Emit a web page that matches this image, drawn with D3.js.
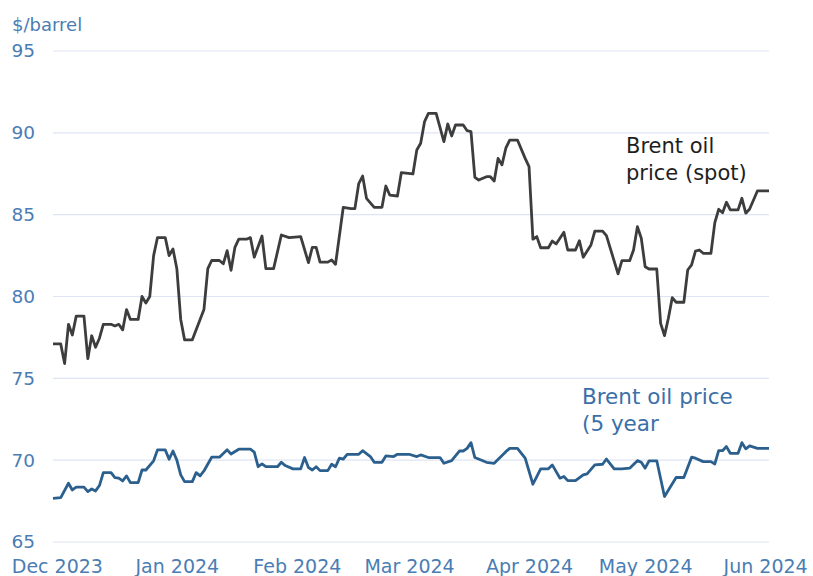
<!DOCTYPE html>
<html>
<head>
<meta charset="utf-8">
<script src="https://cdn.jsdelivr.net/npm/d3@7"></script>
<style>
  body { margin: 0; background: #fff; }
  svg text { font-family: "DejaVu Sans", sans-serif; }
</style>
</head>
<body>
<svg id="chart"></svg>
<script>
// Brent spot vs 5-year forward
var spotDates = ["2023-11-30","2023-12-02","2023-12-03","2023-12-04","2023-12-05","2023-12-06","2023-12-08","2023-12-09","2023-12-10","2023-12-11","2023-12-12","2023-12-13","2023-12-15","2023-12-16","2023-12-17","2023-12-18","2023-12-19","2023-12-20","2023-12-22","2023-12-23","2023-12-24","2023-12-25","2023-12-26","2023-12-27","2023-12-29","2023-12-30","2023-12-31",
  "2024-01-01","2024-01-02","2024-01-03","2024-01-05","2024-01-08","2024-01-09","2024-01-10","2024-01-12","2024-01-13","2024-01-14","2024-01-15","2024-01-16","2024-01-17","2024-01-19","2024-01-20","2024-01-21","2024-01-23","2024-01-24","2024-01-26","2024-01-28","2024-01-30",
  "2024-02-02","2024-02-04","2024-02-05","2024-02-06","2024-02-07","2024-02-09","2024-02-10","2024-02-11","2024-02-13","2024-02-15","2024-02-16","2024-02-17","2024-02-18","2024-02-19","2024-02-21","2024-02-23","2024-02-24","2024-02-25","2024-02-27","2024-02-28",
  "2024-03-02","2024-03-03","2024-03-04","2024-03-05","2024-03-06","2024-03-08","2024-03-10","2024-03-11","2024-03-12","2024-03-13","2024-03-15","2024-03-16","2024-03-17","2024-03-18","2024-03-19","2024-03-21","2024-03-22","2024-03-23","2024-03-24","2024-03-25","2024-03-26","2024-03-27","2024-03-29","2024-03-31",
  "2024-04-01","2024-04-02","2024-04-03","2024-04-04","2024-04-06","2024-04-07","2024-04-08","2024-04-10","2024-04-11","2024-04-13","2024-04-14","2024-04-15","2024-04-17","2024-04-18","2024-04-20","2024-04-21","2024-04-24","2024-04-25","2024-04-27","2024-04-28","2024-04-29","2024-04-30",
  "2024-05-01","2024-05-02","2024-05-04","2024-05-05","2024-05-06","2024-05-07","2024-05-08","2024-05-09","2024-05-11","2024-05-12","2024-05-13","2024-05-14","2024-05-15","2024-05-16","2024-05-18","2024-05-19","2024-05-20","2024-05-21","2024-05-22","2024-05-23","2024-05-25","2024-05-26","2024-05-27","2024-05-28","2024-05-30","2024-06-02"];
var spotValues = [77.1,77.1,75.9,78.3,77.65,78.8,78.8,76.2,77.6,76.9,77.45,78.3,78.3,78.2,78.3,77.96,79.2,78.6,78.6,80.0,79.6,80.0,82.5,83.6,83.6,82.5,82.9,
  81.7,78.6,77.35,77.35,79.2,81.7,82.2,82.2,82.0,82.8,81.6,83.0,83.5,83.5,83.6,82.4,83.7,81.7,81.7,83.76,83.6,
  83.66,82.07,83.0,83.0,82.1,82.1,82.23,81.97,85.45,85.37,85.37,86.9,87.36,86.0,85.45,85.45,86.75,86.2,86.14,87.57,
  87.49,88.95,89.36,90.68,91.19,91.19,89.46,90.54,89.81,90.48,90.48,90.13,90.07,87.28,87.12,87.32,87.32,87.06,88.44,88.04,89.06,89.56,89.56,88.44,
  87.93,83.5,83.66,82.98,82.98,83.39,83.21,83.92,82.84,82.84,83.41,82.4,83.15,84.0,84.0,83.72,81.38,82.19,82.19,82.84,84.27,83.56,
  81.82,81.68,81.68,78.36,77.61,78.67,79.93,79.65,79.65,81.62,81.93,82.78,82.84,82.64,82.64,84.51,85.33,85.12,85.76,85.29,85.29,86.0,85.09,85.35,86.45,86.45];

var fwdDates = ["2023-11-30","2023-12-02","2023-12-04","2023-12-05","2023-12-06","2023-12-08","2023-12-09","2023-12-10","2023-12-11","2023-12-12","2023-12-13","2023-12-15","2023-12-16","2023-12-17","2023-12-18","2023-12-19","2023-12-20","2023-12-22","2023-12-23","2023-12-24","2023-12-26","2023-12-27","2023-12-29","2023-12-30","2023-12-31",
  "2024-01-01","2024-01-02","2024-01-03","2024-01-05","2024-01-06","2024-01-07","2024-01-08","2024-01-10","2024-01-12","2024-01-14","2024-01-15","2024-01-17","2024-01-20","2024-01-21","2024-01-22","2024-01-23","2024-01-24","2024-01-27","2024-01-28","2024-01-29","2024-01-31",
  "2024-02-02","2024-02-03","2024-02-04","2024-02-05","2024-02-06","2024-02-07","2024-02-09","2024-02-10","2024-02-11","2024-02-12","2024-02-13","2024-02-14","2024-02-17","2024-02-18","2024-02-20","2024-02-21","2024-02-23","2024-02-24","2024-02-26","2024-02-27",
  "2024-03-01","2024-03-03","2024-03-04","2024-03-06","2024-03-09","2024-03-10","2024-03-12","2024-03-14","2024-03-15","2024-03-16","2024-03-17","2024-03-18","2024-03-21","2024-03-23","2024-03-26","2024-03-27","2024-03-29","2024-03-31",
  "2024-04-02","2024-04-03","2024-04-04","2024-04-06","2024-04-07","2024-04-09","2024-04-10","2024-04-11","2024-04-13","2024-04-15","2024-04-16","2024-04-18","2024-04-20","2024-04-21","2024-04-23","2024-04-25","2024-04-27","2024-04-29","2024-04-30",
  "2024-05-01","2024-05-02","2024-05-04","2024-05-06","2024-05-09","2024-05-11","2024-05-13","2024-05-14","2024-05-16","2024-05-18","2024-05-19","2024-05-20","2024-05-21","2024-05-22","2024-05-23","2024-05-25","2024-05-26","2024-05-27","2024-05-28","2024-05-30","2024-06-02"];
var fwdValues = [67.67,67.71,68.59,68.18,68.35,68.35,68.08,68.24,68.12,68.45,69.24,69.24,68.94,68.9,68.73,69.04,68.63,68.63,69.4,69.4,69.96,70.63,70.63,70.06,70.56,
  70.0,69.1,68.69,68.69,69.24,69.04,69.34,70.18,70.18,70.63,70.38,70.67,70.67,70.49,69.6,69.77,69.6,69.6,69.87,69.67,69.47,
  69.47,70.16,69.55,69.4,69.6,69.36,69.36,69.75,69.6,70.12,70.06,70.36,70.36,70.58,70.22,69.87,69.87,70.26,70.22,70.36,
  70.36,70.22,70.32,70.16,70.16,69.81,69.97,70.56,70.56,70.72,71.07,70.16,69.87,69.81,70.52,70.72,70.72,70.12,
  68.53,69.0,69.47,69.47,69.71,68.9,69.0,68.75,68.75,69.1,69.16,69.71,69.75,70.07,69.47,69.47,69.51,69.97,69.87,
  69.51,69.96,69.96,67.78,68.94,68.94,70.18,70.12,69.91,69.91,69.77,70.58,70.58,70.83,70.42,70.42,71.07,70.69,70.87,70.72,70.72];

var yTicks = [65, 70, 75, 80, 85, 90, 95];
var monthTicks = ["2023-12-01","2024-01-01","2024-02-01","2024-03-01","2024-04-01","2024-05-01","2024-06-01"];

var width = 813, height = 576;
var margin = {top: 51, right: 44, bottom: 34, left: 53};
var parse = d3.timeParse("%Y-%m-%d");

var spot = spotDates.map(function(d, i) { return {date: parse(d), value: spotValues[i]}; });
var fwd = fwdDates.map(function(d, i) { return {date: parse(d), value: fwdValues[i]}; });

var svg = d3.select("#chart")
    .attr("width", width)
    .attr("height", height);

var x = d3.scaleTime()
    .domain([parse("2023-11-30"), parse("2024-06-02")])
    .range([margin.left, width - margin.right]);

var y = d3.scaleLinear()
    .domain([65, 95])
    .range([height - margin.bottom, margin.top]);

var axisColor = "#4a7db3";

// gridlines
svg.append("g").selectAll("line")
    .data(yTicks)
  .enter().append("line")
    .attr("x1", margin.left)
    .attr("x2", width - margin.right)
    .attr("y1", function(d) { return y(d); })
    .attr("y2", function(d) { return y(d); })
    .style("stroke", "#dfe4f4")
    .style("stroke-width", 1.2);

var yAxis = d3.axisLeft(y).tickValues(yTicks).tickSize(0).tickPadding(0);
svg.append("g")
    .attr("transform", "translate(35,0)")
    .call(yAxis)
    .call(function(g) { g.select(".domain").remove(); })
    .selectAll("text")
    .style("font-family", "DejaVu Sans, sans-serif")
    .style("font-size", "18.5px")
    .style("fill", axisColor);

var xAxis = d3.axisBottom(x)
    .tickValues(monthTicks.map(parse))
    .tickFormat(d3.timeFormat("%b %Y"))
    .tickSize(0).tickPadding(0);
svg.append("g")
    .attr("transform", "translate(0,559)")
    .call(xAxis)
    .call(function(g) { g.select(".domain").remove(); })
    .selectAll("text")
    .style("font-family", "DejaVu Sans, sans-serif")
    .style("font-size", "19px")
    .style("fill", axisColor);

svg.append("text")
    .attr("x", 12)
    .attr("y", 31)
    .style("font-size", "18px")
    .style("fill", axisColor)
    .text("$/barrel");

var line = d3.line()
    .x(function(d) { return x(d.date); })
    .y(function(d) { return y(d.value); });

svg.append("path")
    .datum(fwd)
    .attr("d", line)
    .style("fill", "none")
    .style("stroke", "#2b5f8d")
    .style("stroke-width", 2.8)
    .style("stroke-linejoin", "round");

svg.append("path")
    .datum(spot)
    .attr("d", line)
    .style("fill", "none")
    .style("stroke", "#3d3d3d")
    .style("stroke-width", 2.8)
    .style("stroke-linejoin", "round");

// labels
var spotLabel = svg.append("text")
    .attr("x", 626)
    .attr("y", 153)
    .style("font-size", "21px")
    .style("fill", "#1e1e1e");
spotLabel.append("tspan").attr("x", 626).text("Brent oil");
spotLabel.append("tspan").attr("x", 626).attr("dy", 27).text("price (spot)");

var fwdLabel = svg.append("text")
    .attr("x", 582)
    .attr("y", 404)
    .style("font-size", "21.5px")
    .style("fill", "#3a70a8");
fwdLabel.append("tspan").attr("x", 582).text("Brent oil price");
fwdLabel.append("tspan").attr("x", 582).attr("dy", 27).text("(5 year");
</script>
</body>
</html>
